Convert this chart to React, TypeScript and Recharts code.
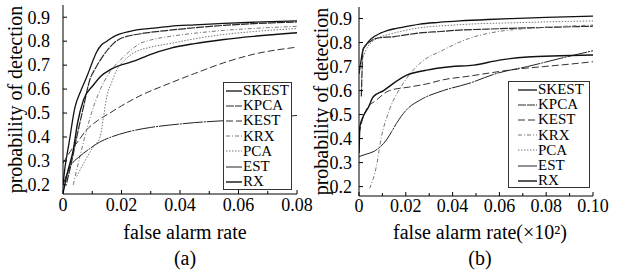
import { LineChart, Line, XAxis, YAxis, Legend } from "recharts"

const FONT = "Liberation Serif, DejaVu Serif, Times New Roman, serif"

const SERIES = ["SKEST", "KPCA", "KEST", "KRX", "PCA", "EST", "RX"]

// panel (a)
const A_SKEST_X = [0, 0.0007, 0.002, 0.0041, 0.006, 0.0081, 0.0098, 0.0115, 0.0132, 0.015, 0.0172, 0.0195, 0.0225, 0.0252, 0.03, 0.0366, 0.045, 0.055, 0.065, 0.08]
const A_SKEST_Y = [0.2, 0.275, 0.37, 0.525, 0.59, 0.65, 0.705, 0.755, 0.785, 0.8, 0.818, 0.83, 0.84, 0.847, 0.853, 0.862, 0.868, 0.874, 0.879, 0.885]
const A_KPCA_X = [0.0013, 0.003, 0.0047, 0.007, 0.0092, 0.011, 0.0127, 0.015, 0.0172, 0.0195, 0.0218, 0.026, 0.0366, 0.045, 0.055, 0.065, 0.08]
const A_KPCA_Y = [0.21, 0.3, 0.4, 0.525, 0.64, 0.685, 0.72, 0.76, 0.79, 0.81, 0.82, 0.83, 0.846, 0.856, 0.866, 0.873, 0.88]
const A_KEST_X = [0, 0.0025, 0.0047, 0.0081, 0.012, 0.016, 0.02, 0.026, 0.0366, 0.045, 0.055, 0.065, 0.08]
const A_KEST_Y = [0.29, 0.34, 0.375, 0.43, 0.47, 0.5, 0.53, 0.57, 0.625, 0.665, 0.71, 0.745, 0.775]
const A_KRX_X = [0.0035, 0.0058, 0.0081, 0.0104, 0.0138, 0.0165, 0.0195, 0.0225, 0.0263, 0.03, 0.0366, 0.045, 0.055, 0.065, 0.08]
const A_KRX_Y = [0.2, 0.32, 0.43, 0.525, 0.625, 0.68, 0.72, 0.755, 0.79, 0.805, 0.82, 0.833, 0.845, 0.853, 0.862]
const A_PCA_X = [0.0047, 0.0075, 0.0104, 0.0127, 0.0138, 0.015, 0.0167, 0.0184, 0.021, 0.024, 0.03, 0.0366, 0.045, 0.055, 0.065, 0.08]
const A_PCA_Y = [0.235, 0.3, 0.36, 0.4, 0.48, 0.57, 0.63, 0.68, 0.72, 0.75, 0.775, 0.79, 0.81, 0.828, 0.84, 0.853]
const A_EST_X = [0, 0.0024, 0.0058, 0.009, 0.0127, 0.0165, 0.0218, 0.03, 0.0366, 0.045, 0.055, 0.065, 0.08]
const A_EST_Y = [0.2, 0.275, 0.32, 0.35, 0.38, 0.4, 0.42, 0.44, 0.45, 0.46, 0.468, 0.475, 0.49]
const A_RX_X = [0, 0.0015, 0.0035, 0.005, 0.007, 0.0104, 0.013, 0.016, 0.0197, 0.0218, 0.026, 0.03, 0.0366, 0.045, 0.055, 0.065, 0.08]
const A_RX_Y = [0.165, 0.25, 0.345, 0.46, 0.555, 0.617, 0.655, 0.68, 0.7, 0.707, 0.725, 0.745, 0.77, 0.79, 0.807, 0.82, 0.835]

// panel (b)
const B_SKEST_X = [0, 0.0008, 0.0017, 0.003, 0.0046, 0.0065, 0.0089, 0.012, 0.016, 0.02, 0.026, 0.034, 0.043, 0.055, 0.065, 0.08, 0.1]
const B_SKEST_Y = [0.67, 0.72, 0.77, 0.79, 0.81, 0.825, 0.838, 0.85, 0.859, 0.866, 0.877, 0.884, 0.89, 0.896, 0.9, 0.905, 0.91]
const B_KPCA_X = [0.001, 0.0013, 0.0017, 0.003, 0.0046, 0.0065, 0.0089, 0.0146, 0.02, 0.026, 0.035, 0.043, 0.055, 0.065, 0.08, 0.1]
const B_KPCA_Y = [0.575, 0.68, 0.77, 0.79, 0.803, 0.815, 0.82, 0.824, 0.832, 0.84, 0.846, 0.852, 0.856, 0.859, 0.863, 0.868]
const B_KEST_X = [0, 0.0015, 0.0031, 0.0074, 0.013, 0.0217, 0.029, 0.036, 0.047, 0.057, 0.068, 0.079, 0.09, 0.1]
const B_KEST_Y = [0.42, 0.48, 0.52, 0.56, 0.6, 0.615, 0.628, 0.645, 0.66, 0.675, 0.69, 0.7, 0.71, 0.72]
const B_KRX_X = [0.0046, 0.0074, 0.0096, 0.013, 0.0189, 0.026, 0.036, 0.047, 0.059, 0.07, 0.079, 0.1]
const B_KRX_Y = [0.193, 0.283, 0.408, 0.519, 0.63, 0.713, 0.769, 0.817, 0.845, 0.857, 0.863, 0.873]
const B_PCA_X = [0, 0.003, 0.0074, 0.012, 0.016, 0.022, 0.029, 0.036, 0.05, 0.065, 0.08, 0.1]
const B_PCA_Y = [0.68, 0.77, 0.815, 0.832, 0.842, 0.855, 0.865, 0.87, 0.878, 0.882, 0.886, 0.89]
const B_EST_X = [0, 0.003, 0.006, 0.009, 0.0117, 0.014, 0.016, 0.0203, 0.026, 0.036, 0.047, 0.059, 0.072, 0.086, 0.1]
const B_EST_Y = [0.325, 0.335, 0.345, 0.365, 0.394, 0.43, 0.463, 0.52, 0.56, 0.6, 0.63, 0.672, 0.7, 0.734, 0.766]
const B_RX_X = [0, 0.0004, 0.0017, 0.004, 0.0061, 0.0105, 0.0147, 0.0204, 0.029, 0.039, 0.049, 0.06, 0.072, 0.086, 0.1]
const B_RX_Y = [0.34, 0.45, 0.49, 0.53, 0.574, 0.6, 0.63, 0.664, 0.685, 0.699, 0.706, 0.727, 0.74, 0.745, 0.748]

// axis ticks
const X_TICKS_A = [0, 0.01, 0.02, 0.03, 0.04, 0.05, 0.06, 0.07, 0.08]
const X_TICKS_B = [0, 0.01, 0.02, 0.03, 0.04, 0.05, 0.06, 0.07, 0.08, 0.09, 0.1]
const X_MAJOR = [0, 0.02, 0.04, 0.06, 0.08, 0.1]
const Y_TICKS = [0.2, 0.3, 0.4, 0.5, 0.6, 0.7, 0.8, 0.9]

const STYLE: Record<string, { stroke: string; dash?: string; width: number }> = {
	SKEST: { stroke: "#111", width: 1.3 },
	KPCA: { stroke: "#2a2a2a", dash: "8 1", width: 1.2 },
	KEST: { stroke: "#333", dash: "7 3", width: 1 },
	KRX: { stroke: "#777", dash: "4 2 1 2", width: 1 },
	PCA: { stroke: "#777", dash: "1.5 1.5", width: 1 },
	EST: { stroke: "#222", dash: "20 1 2 1", width: 1 },
	RX: { stroke: "#111", width: 1.4 },
}

const zip = (xs: number[], ys: number[]) => xs.map((x, i) => ({ x, y: ys[i] }))

const DATA_A: Record<string, { x: number; y: number }[]> = {
	SKEST: zip(A_SKEST_X, A_SKEST_Y),
	KPCA: zip(A_KPCA_X, A_KPCA_Y),
	KEST: zip(A_KEST_X, A_KEST_Y),
	KRX: zip(A_KRX_X, A_KRX_Y),
	PCA: zip(A_PCA_X, A_PCA_Y),
	EST: zip(A_EST_X, A_EST_Y),
	RX: zip(A_RX_X, A_RX_Y),
}

const DATA_B: Record<string, { x: number; y: number }[]> = {
	SKEST: zip(B_SKEST_X, B_SKEST_Y),
	KPCA: zip(B_KPCA_X, B_KPCA_Y),
	KEST: zip(B_KEST_X, B_KEST_Y),
	KRX: zip(B_KRX_X, B_KRX_Y),
	PCA: zip(B_PCA_X, B_PCA_Y),
	EST: zip(B_EST_X, B_EST_Y),
	RX: zip(B_RX_X, B_RX_Y),
}

const isMajor = (v: number) => X_MAJOR.some((m) => Math.abs(m - v) < 1e-9)

function XTick(props: any) {
	const { x, y, payload, base } = props
	const v = payload.value
	const major = isMajor(v)
	return (
		<g>
			<line x1={x} x2={x} y1={y} y2={y - (major ? 4 : 3)} stroke="#000" strokeWidth={1} />
			{major && (
				<text x={x} y={y + base} textAnchor="middle" fontSize={18} style={{ fontFamily: FONT }} fill="#000">
					{v === 0 ? "0" : v.toFixed(2)}
				</text>
			)}
		</g>
	)
}

function YTick(props: any) {
	const { x, y, payload, gap } = props
	return (
		<g>
			<line x1={x} x2={x + 4} y1={y} y2={y} stroke="#000" strokeWidth={1} />
			<text x={x - gap} y={y} dy="0.35em" textAnchor="end" fontSize={18} style={{ fontFamily: FONT }} fill="#000">
				{payload.value.toFixed(1)}
			</text>
		</g>
	)
}

function XCaption({ at, text, tag }: { at: number; text: string; tag: string }) {
	return (
		<g fill="#000" fontSize={20} style={{ fontFamily: FONT }}>
			<text x={at} y={239} textAnchor="middle">{text}</text>
			<text x={at} y={265} textAnchor="middle">{tag}</text>
		</g>
	)
}

function YCaption({ bx, cy }: { bx: number; cy: number }) {
	return (
		<text
			x={bx}
			y={cy}
			transform={`rotate(-90 ${bx} ${cy})`}
			textAnchor="middle"
			fontSize={20}
			style={{ fontFamily: FONT }}
			fill="#000"
		>
			probability of detection
		</text>
	)
}

function LegendBox({ inset, sample }: { inset: number; sample: number }) {
	return (
		<div
			style={{
				border: "1px solid #333",
				background: "#fff",
				boxSizing: "border-box",
				height: "100%",
				fontFamily: FONT,
				fontSize: 15,
				lineHeight: "15.2px",
				color: "#000",
				paddingLeft: inset,
			}}
		>
			{SERIES.map((s) => (
				<div key={s} style={{ display: "flex", alignItems: "center", height: 15.2 }}>
					<svg width={sample} height={4} style={{ marginRight: 1 }}>
						<line
							x1={0}
							x2={sample}
							y1={2}
							y2={2}
							stroke={STYLE[s].stroke}
							strokeWidth={STYLE[s].width}
							strokeDasharray={STYLE[s].dash}
						/>
					</svg>
					<span>{s}</span>
				</div>
			))}
		</div>
	)
}

type PanelProps = {
	left: number
	width: number
	top: number
	bottom: number
	plotLeft: number
	plotRight: number
	xDomain: [number, number]
	yDomain: [number, number]
	xTicks: number[]
	data: Record<string, { x: number; y: number }[]>
	tickBase: number
	yGap: number
	caption: string
	tag: string
	captionAt: number
	yLabelX: number
	legend: { left: number; top: number; width: number; height: number; inset: number; sample: number }
}

function Panel(p: PanelProps) {
	const height = 271
	return (
		<div style={{ position: "absolute", left: p.left, top: 0, width: p.width, height }}>
			<LineChart
				width={p.width}
				height={height}
				style={{ overflow: "visible" }}
				margin={{ top: p.top, right: p.width - p.plotRight, left: 0, bottom: height - p.bottom - 30 }}
			>
				<XAxis
					type="number"
					dataKey="x"
					domain={p.xDomain}
					ticks={p.xTicks}
					interval={0}
					allowDataOverflow
					height={30}
					tickSize={0}
					tickMargin={0}
					tickLine={false}
					axisLine={{ stroke: "#000", strokeWidth: 1 }}
					tick={(t: any) => <XTick {...t} base={p.tickBase} />}
					label={<XCaption at={p.captionAt} text={p.caption} tag={p.tag} />}
				/>
				<YAxis
					type="number"
					dataKey="y"
					domain={p.yDomain}
					ticks={Y_TICKS}
					interval={0}
					allowDataOverflow
					width={p.plotLeft}
					tickSize={0}
					tickMargin={0}
					tickLine={false}
					axisLine={{ stroke: "#000", strokeWidth: 1 }}
					tick={(t: any) => <YTick {...t} gap={p.yGap} />}
					label={<YCaption bx={p.yLabelX} cy={(p.top + p.bottom) / 2} />}
				/>
				{SERIES.map((s) => (
					<Line
						key={s}
						name={s}
						data={p.data[s]}
						dataKey="y"
						type="monotone"
						stroke={STYLE[s].stroke}
						strokeWidth={STYLE[s].width}
						strokeDasharray={STYLE[s].dash}
						dot={false}
						activeDot={false}
						isAnimationActive={false}
					/>
				))}
				<Legend
					layout="vertical"
					align="center"
					verticalAlign="middle"
					wrapperStyle={{
						left: p.legend.left,
						top: p.legend.top,
						width: p.legend.width,
						height: p.legend.height,
					}}
					content={() => <LegendBox inset={p.legend.inset} sample={p.legend.sample} />}
				/>
			</LineChart>
		</div>
	)
}

export default function App() {
	return (
		<div style={{ position: "absolute", left: 0, top: 0, width: 629, height: 271, background: "#fff", fontFamily: FONT }}>
			<Panel
				left={0}
				width={318}
				top={5}
				bottom={194}
				plotLeft={63}
				plotRight={297}
				xDomain={[0, 0.08]}
				yDomain={[0.162, 0.951]}
				xTicks={X_TICKS_A}
				data={DATA_A}
				tickBase={17}
				yGap={13}
				caption="false alarm rate"
				tag="(a)"
				captionAt={185}
				yLabelX={22}
				legend={{ left: 223, top: 82, width: 69, height: 108, inset: 2, sample: 16 }}
			/>
			<Panel
				left={310}
				width={319}
				top={7}
				bottom={196}
				plotLeft={49}
				plotRight={283}
				xDomain={[0, 0.1]}
				yDomain={[0.161, 0.948]}
				xTicks={X_TICKS_B}
				data={DATA_B}
				tickBase={15.5}
				yGap={7}
				caption="false alarm rate(×10²)"
				tag="(b)"
				captionAt={170}
				yLabelX={18}
				legend={{ left: 198, top: 81, width: 82, height: 107, inset: 9, sample: 19 }}
			/>
		</div>
	)
}
